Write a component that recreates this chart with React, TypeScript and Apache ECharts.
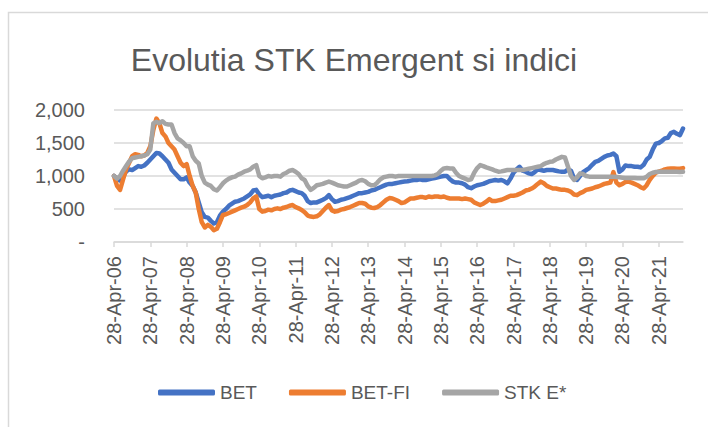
import React, { useEffect, useRef } from "react";
import * as echarts from "echarts";

const seriesNames = ["BET", "BET-FI", "STK E*"];
const seriesColors = ["#4472C4", "#ED7D31", "#A5A5A5"];
const monthNames = ["Jan", "Feb", "Mar", "Apr", "May", "Jun", "Jul", "Aug", "Sep", "Oct", "Nov", "Dec"];
const yTicks = [0, 500, 1000, 1500, 2000];

// monthly values, Apr 2006 .. Dec 2021
const bet = [
  1000, 960, 930, 990, 1070, 1100, 1090, 1120, 1150, 1140, 1160, 1200,
  1250, 1300, 1350, 1340, 1300, 1250, 1200, 1100, 1050, 1000, 950, 950,
  980, 900, 850, 750, 600, 450, 380, 370, 320, 280, 300, 400,
  460, 500, 550, 580, 610, 620, 640, 660, 690, 720, 780, 790,
  720, 680, 690, 700, 680, 700, 710, 720, 740, 750, 780, 790,
  770, 750, 740, 700, 620, 590, 600, 600, 620, 640, 665, 710,
  650, 610, 620, 640, 650, 665, 680, 700, 720, 740, 740, 750,
  760, 780, 790, 810, 830, 850, 870, 880, 880, 890, 900, 910,
  915, 920, 930, 940, 940, 950, 940, 940, 950, 960, 970, 980,
  990, 1000, 1000, 950, 915, 900, 900, 890, 870, 830, 815, 840,
  860, 870, 880, 900, 920, 930, 940, 930, 940, 920, 890, 960,
  1050, 1100, 1140, 1080, 1065, 1040, 1030, 1060, 1100, 1090, 1080, 1090,
  1090, 1090, 1080, 1070, 1065, 1065, 1100, 1080, 960, 940, 1000, 1060,
  1090, 1120, 1170, 1215, 1230, 1260, 1290, 1310, 1320, 1340, 1300, 1065,
  1100, 1160, 1150, 1150, 1140, 1140, 1130, 1170, 1250, 1290, 1400, 1490,
  1500, 1530, 1570, 1580, 1650, 1670, 1640, 1620, 1720,
];
const betFi = [
  1000, 850, 790, 950, 1100, 1200, 1300, 1330, 1320, 1300, 1310, 1350,
  1450, 1700, 1870, 1800, 1650, 1600, 1500, 1450, 1400, 1300, 1200, 1150,
  1180, 1000, 850, 750, 500, 300, 220, 260, 230, 180, 200, 300,
  410, 420, 440, 460, 480, 500, 520, 535, 560, 600, 660, 690,
  500, 460, 470, 490, 480, 500, 510, 500, 520, 530, 550, 560,
  530, 510, 485, 450, 400, 385, 380, 390, 420, 470, 520, 560,
  480, 460, 470, 490, 500, 515, 530, 550, 570, 590, 590, 580,
  540, 520, 515, 530, 560, 600, 640, 665, 660, 640, 620, 590,
  600, 630, 660, 660, 670, 680, 680, 670, 690, 680, 690, 690,
  680, 690, 670, 660, 660, 660, 660, 650, 660, 650, 640, 600,
  580, 560, 580, 610, 650, 620, 620, 630, 640, 660, 680, 700,
  700, 710, 730, 750, 780, 790, 810, 840, 880, 915, 890, 850,
  830, 810, 810, 800, 790, 790, 780, 760, 720, 710, 740, 760,
  790, 800, 810, 830, 840, 860, 880, 890, 900, 1060, 900, 860,
  880, 910, 915, 900, 880, 860, 830, 810, 860, 940, 1000, 1050,
  1065, 1080, 1100, 1110, 1115, 1115, 1110, 1110, 1120,
];
const stkE = [
  1000, 960, 1000, 1080, 1150, 1220, 1270, 1280, 1290, 1300, 1310, 1330,
  1400, 1800, 1820, 1800, 1830, 1790, 1780, 1780, 1650, 1570, 1540, 1500,
  1450, 1450, 1300, 1230, 1190, 1000, 900, 870, 850, 800, 780, 830,
  890, 930, 960, 980, 990, 1020, 1040, 1065, 1080, 1100, 1140, 1165,
  1000, 965, 980, 1000, 990, 1000, 1000, 990, 1030, 1050, 1080, 1090,
  1065, 1030, 965, 940, 850, 790, 820, 860, 870, 880, 900, 915,
  900, 880, 860, 850, 840, 840, 860, 880, 900, 930, 940, 920,
  880, 860, 860, 900, 950, 980, 990, 1000, 1000, 990, 1000, 1000,
  1000, 1000, 1000, 1000, 1000, 1000, 1000, 1000, 1000, 1000, 1010, 1030,
  1080, 1115, 1120, 1115, 1115, 1050, 1000, 980, 960, 940, 950, 1050,
  1120, 1165, 1150, 1130, 1115, 1100, 1080, 1065, 1070, 1080, 1090, 1090,
  1090, 1090, 1090, 1090, 1100, 1110, 1120, 1130, 1140, 1150, 1180, 1200,
  1215, 1220, 1250, 1270, 1290, 1280, 1140, 1000, 940, 980, 1040, 1030,
  1000, 990, 990, 990, 990, 990, 990, 990, 990, 990, 985, 980,
  975, 970, 970, 970, 970, 965, 965, 965, 990, 1030, 1050, 1060,
  1065, 1065, 1065, 1065, 1065, 1065, 1065, 1060, 1065,
];

const categories: string[] = [];
for (let i = 0; i < bet.length; i++) {
  const mi = (3 + i) % 12;
  const yr = 2006 + Math.floor((3 + i) / 12);
  categories.push("28-" + monthNames[mi] + "-" + String(yr % 100).padStart(2, "0"));
}

const FONT = "Liberation Sans";

export default function App() {
  const ref = useRef<HTMLDivElement>(null);
  useEffect(() => {
    if (!ref.current) return;
    const chart = echarts.init(ref.current, null, { renderer: "svg" });
    const data = [bet, betFi, stkE];
    chart.setOption({
      animation: false,
      backgroundColor: "#ffffff",
      textStyle: { fontFamily: FONT },
      title: {
        text: "Evolutia STK Emergent si indici",
        left: "center",
        top: 39,
        textStyle: { fontFamily: FONT, fontSize: 32, fontWeight: "normal", color: "#595959" },
      },
      graphic: [
        {
          type: "rect",
          left: 6,
          top: 10,
          shape: { x: 0, y: 0, width: 740, height: 440 },
          style: { fill: "none", stroke: "#d9d9d9", lineWidth: 1.5 },
          silent: true,
          z: -1,
        },
      ],
      legend: {
        bottom: 20,
        left: 153,
        icon: "roundRect",
        itemWidth: 57,
        itemHeight: 6,
        itemGap: 32,
        textStyle: { fontFamily: FONT, fontSize: 19, color: "#595959" },
        data: seriesNames,
      },
      grid: { left: 114, right: 25, top: 110, bottom: 185, containLabel: false },
      xAxis: {
        type: "category",
        data: categories,
        boundaryGap: false,
        axisLine: { lineStyle: { color: "#d9d9d9", width: 1.5 } },
        axisTick: { show: true, interval: 11, length: 5, lineStyle: { color: "#d9d9d9", width: 1.5 } },
        axisLabel: {
          interval: 11,
          rotate: 90,
          margin: 14,
          fontFamily: FONT,
          fontSize: 20,
          color: "#595959",
        },
        splitLine: { show: false },
      },
      yAxis: {
        type: "value",
        min: yTicks[0],
        max: yTicks[yTicks.length - 1],
        interval: 500,
        axisLine: { show: false },
        axisTick: { show: false },
        axisLabel: {
          margin: 29,
          fontFamily: FONT,
          fontSize: 20,
          color: "#595959",
          formatter: (v: number) => (v === 0 ? "-" : v.toLocaleString("en-US")),
        },
        splitLine: { lineStyle: { color: "#d9d9d9", width: 1.5 } },
      },
      series: seriesNames.map((name, i) => ({
        name,
        type: "line",
        data: data[i],
        showSymbol: false,
        symbol: "none",
        color: seriesColors[i],
        lineStyle: { width: 4.5, color: seriesColors[i], cap: "round", join: "round" },
        z: 2 + i,
      })),
    });
    return () => chart.dispose();
  }, []);
  return <div ref={ref} style={{ width: 708, height: 427, position: "absolute", left: 0, top: 0 }} />;
}
